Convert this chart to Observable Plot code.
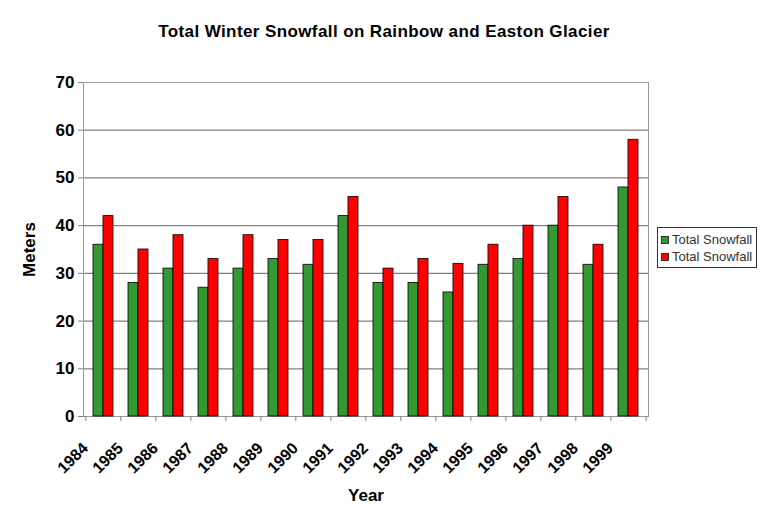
<!DOCTYPE html>
<html><head><meta charset="utf-8">
<script src="https://cdn.jsdelivr.net/npm/d3@7"></script>
<script src="https://cdn.jsdelivr.net/npm/@observablehq/plot@0.6"></script>
<style>
body{margin:0;background:#fff;font-family:"Liberation Sans",Arial,sans-serif;}
#wrap{position:relative;width:768px;height:525px;overflow:hidden;}
#title{position:absolute;top:22px;left:0;width:768px;text-align:center;font-weight:bold;font-size:17px;letter-spacing:0.4px;line-height:20px;color:#000;}
#chart{position:absolute;top:50px;left:0;}
#legend{position:absolute;left:657px;top:227px;width:100px;height:41px;border:1px solid #333;font-size:13px;color:#333;background:#fff;box-sizing:border-box;padding:3px 0 0 3px;}
#legend div{height:17px;line-height:17px;white-space:nowrap;}
#legend span.sw{display:inline-block;width:8px;height:8px;margin-right:3px;vertical-align:0px;border:1px solid #333;box-sizing:border-box;}
</style></head>
<body>
<div id="wrap">
  <div id="title"></div>
  <div id="chart"></div>
  <div id="legend"></div>
</div>
<script>
const titleText = "Total Winter Snowfall on Rainbow and Easton Glacier";
const years = ["1984","1985","1986","1987","1988","1989","1990","1991","1992","1993","1994","1995","1996","1997","1998","1999"];
const greenValues = [36,28,31,27,31,33,31.8,42,28,28,26,31.8,33,40,31.8,48];
const redValues = [42,35,38,33,38,37,37,46,31,33,32,36,40,46,36,58];
const seriesNames = ["Total Snowfall","Total Snowfall"];
const yTicks = [0,10,20,30,40,50,60,70];
const xLabel = "Year";
const yLabel = "Meters";

const seriesColors = ["#339933","#ff0000"];

document.getElementById("title").textContent = titleText;

const rows = years.map((y,i)=>({year:y, a:greenValues[i], b:redValues[i]}));
const W=768, H=475, mL=83, mR=120, mT=32, mB=109;
const step=(W-mL-mR)/years.length;
const pad=0.435;
const bw=step*(1-pad);
const font = "Liberation Sans, Arial, sans-serif";

const chart = Plot.plot({
  width:W, height:H, marginLeft:mL, marginRight:mR, marginTop:mT, marginBottom:mB,
  style:{fontFamily:font, color:"#000", background:"#fff"},
  x:{domain:years, paddingInner:pad, paddingOuter:pad/2, align:0.5},
  y:{domain:[0,70]},
  marks:[
    Plot.ruleY(yTicks.filter(t=>t>0),{stroke:"#808080", strokeWidth:1.2}),
    Plot.frame({stroke:"#999"}),
    Plot.barY(rows,{x:"year", y:"a", fill:seriesColors[0], stroke:"#000", strokeWidth:0.8, insetRight:bw/2}),
    Plot.barY(rows,{x:"year", y:"b", fill:seriesColors[1], stroke:"#000", strokeWidth:0.8, insetLeft:bw/2}),
    Plot.axisY({ticks:yTicks, tickSize:5, tickPadding:4, fontSize:17, fontWeight:"bold", stroke:"#808080",
      label:yLabel, labelAnchor:"center", labelOffset:61, labelArrow:"none"}),
    Plot.axisX({ticks:years, tickSize:5, tickFormat:()=>"", dx:-step/2, stroke:"#808080", label:null}),
    Plot.axisX({ticks:[years[years.length-1]], tickSize:5, tickFormat:()=>"", dx:step/2, stroke:"#808080", label:null}),
    Plot.axisX({ticks:years, tickSize:0, tickPadding:12, tickRotate:-45, dx:-18, dy:17, fontSize:16, fontWeight:"bold",
      label:null}),
    Plot.axisX({ticks:[], tickSize:0, label:xLabel, labelAnchor:"center", labelOffset:84, labelArrow:"none", fontSize:17, fontWeight:"bold"})
  ]
});
document.getElementById("chart").appendChild(chart);

const lg = document.getElementById("legend");
seriesNames.forEach((n,i)=>{
  const d = document.createElement("div");
  const s = document.createElement("span"); s.className="sw"; s.style.background=seriesColors[i];
  d.appendChild(s); d.appendChild(document.createTextNode(n));
  lg.appendChild(d);
});
</script>
</body></html>
